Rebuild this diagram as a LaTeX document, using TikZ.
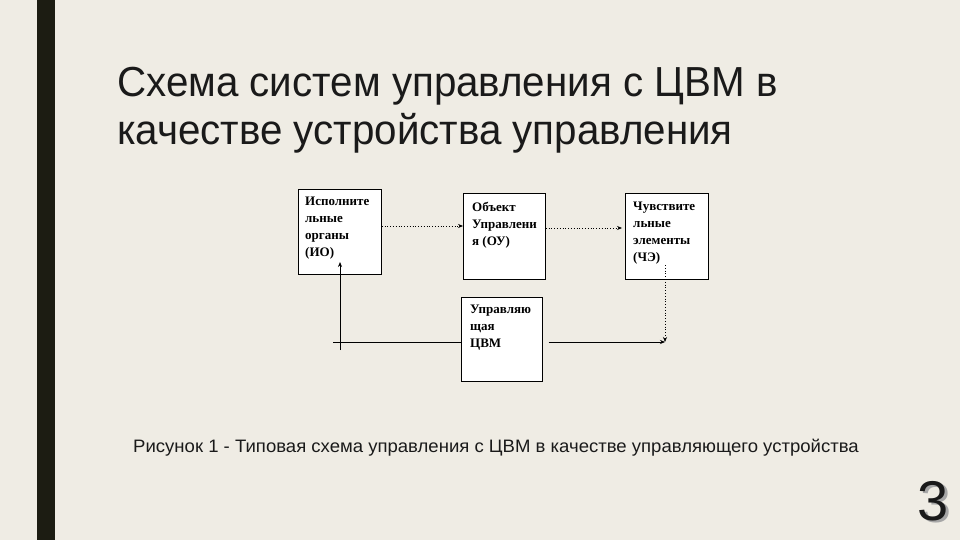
\documentclass[tikz,border=0pt]{standalone}
\usepackage{fontspec}
\setmainfont{Liberation Sans}
\newfontfamily\titlefont[FakeStretch=0.96]{Liberation Sans}
\newfontfamily\capfont[FakeStretch=1.03]{Liberation Sans}
\newfontfamily\boxfont{Liberation Serif}
\usetikzlibrary{arrows.meta}
\definecolor{bgc}{HTML}{EFECE4}
\definecolor{barc}{HTML}{1C1C12}
\definecolor{txtc}{HTML}{1A1A1A}
\tikzset{
  blk/.style={draw=black, line width=0.7pt, fill=white, inner sep=0pt, anchor=north west},
  blktext/.style={anchor=north west, inner sep=0pt, align=left, text=black,
    font=\boxfont\bfseries\fontsize{13}{17}\selectfont},
  dotarrow/.style={draw=black, line width=0.8pt, dotted, -{Stealth[length=5pt,width=4pt]}},
  solarrow/.style={draw=black, line width=0.7pt, -{Stealth[length=5pt,width=4pt]}},
  solline/.style={draw=black, line width=0.7pt},
  titletext/.style={anchor=base west, inner sep=0pt, text=txtc, font=\titlefont\fontsize{42}{48}\selectfont},
}
\begin{document}
\begin{tikzpicture}[x=1pt,y=-1pt]
\useasboundingbox (0,0) rectangle (960,540);
\fill[bgc] (0,0) rectangle (960,540);
\fill[barc] (37,0) rectangle (55,540);

\node[titletext] (t1) at (117,97) {Схема систем управления с ЦВМ в};
\node[titletext] (t2) at (117,145) {качестве устройства управления};

% boxes
\node[blk, minimum width=83pt, minimum height=85pt] (b1) at (298,189) {};
\node[blk, minimum width=82pt, minimum height=86pt] (b2) at (463,193) {};
\node[blk, minimum width=83pt, minimum height=86pt] (b3) at (625,193) {};
\node[blk, minimum width=81pt, minimum height=84pt] (b4) at (461,297) {};

\node[blktext] (l1) at (305,197) {Исполните\\льные\\органы\\(ИО)};
\node[blktext] (l2) at (472,202) {Объект\\Управлени\\я (ОУ)};
\node[blktext] (l3) at (633,202) {Чувствите\\льные\\элементы\\(ЧЭ)};
\node[blktext] (l4) at (470,305) {Управляю\\щая\\ЦВМ};

% connector helper coordinates
\coordinate (r1) at (0,226);
\coordinate (r2) at (0,228);
\coordinate (r3) at (0,342);
\coordinate (v3top) at (665,265);
\coordinate (jn) at (665,342);
\coordinate (lend) at (333,342);
\coordinate (vbot) at (340,350);
\coordinate (vtop) at (340,262);
\coordinate (a2end) at (622,228);

\draw[dotarrow] (b1.east |- r1) -- (b2.west |- r1);
\draw[dotarrow] (b2.east |- r2) -- (a2end);
\draw[dotarrow] (v3top) -- (jn);
\draw[solarrow] (b4.east |- r3) ++(6,0) -- (jn);
\draw[solline] (b4.west |- r3) -- (lend);
\draw[solarrow] (vbot) -- (vtop);

\node[anchor=base west, inner sep=0pt, text=txtc, font=\capfont\fontsize{18}{20}\selectfont] (cap) at (133,452)
  {Рисунок 1 - Типовая схема управления с ЦВМ в качестве управляющего устройства};

\node[anchor=base west, inner sep=0pt, text=txtc, font=\fontsize{56}{60}\selectfont] (num) at (917,520)
  {\rlap{\kern3pt\raisebox{-2pt}{\color{black!35}3}}3};
\end{tikzpicture}
\end{document}
